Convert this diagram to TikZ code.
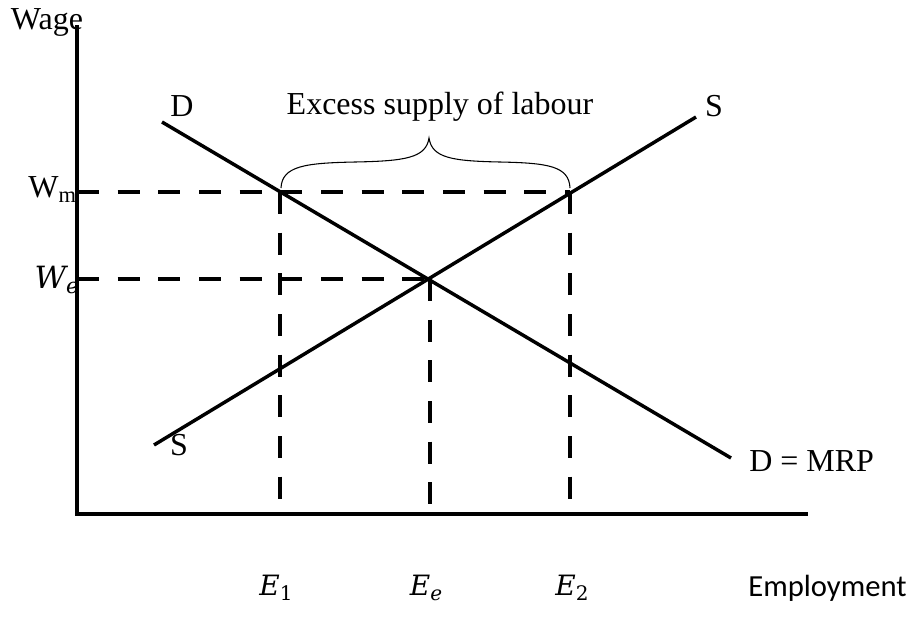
\documentclass[tikz,border=0pt]{standalone}
\usepackage{fontspec}
\setmainfont{Liberation Serif}
\newfontfamily\calfont{Carlito}
\newfontfamily\mathlike{DejaVu Serif}
\newcommand{\mvar}[2]{{\mathlike\itshape #1}\raisebox{-0.35ex}{\mathlike\fontsize{15}{17}\selectfont #2}}
\begin{document}
\begin{tikzpicture}[x=0.75pt,y=-0.75pt,
  axisline/.style={line width=3pt},
  curveline/.style={line width=2.6pt},
  guide/.style={line width=2.6pt, dash pattern=on 16.5pt off 14pt},
  lbl/.style={inner sep=0pt, font=\fontsize{24}{28}\selectfont},
  mlbl/.style={inner sep=0pt, font=\fontsize{21}{25}\selectfont},
  bracestyle/.style={line width=0.8pt}]
\useasboundingbox (0,0) rectangle (912,626);
% axes
\coordinate (O) at (77,514);
\coordinate (Ytop) at (77,25);
\coordinate (Xend) at (808,514);
\draw[axisline] (Ytop) -- (O) -- (Xend);
% curves
\coordinate (D1) at (162,122);
\coordinate (D2) at (731,458);
\coordinate (S1) at (154,445);
\coordinate (S2) at (696,117);
\draw[curveline] (D1) -- (D2);
\draw[curveline] (S1) -- (S2);
% key points
\coordinate (A) at (280,192);
\coordinate (B) at (430,279);
\coordinate (C) at (570,192);
\coordinate (Ywm) at (77,192);
\coordinate (Ywe) at (77,279);
\coordinate (X1) at (280,514);
\coordinate (Xe) at (430,514);
\coordinate (X2) at (570,514);
% dashed guides
\draw[guide] (Ywm) -- (C);
\draw[guide] (Ywe) -- (B);
\draw[guide] (A) -- (X1);
\draw[guide] (B) -- (Xe);
\draw[guide] (C) -- (X2);
% brace
\coordinate (BrL) at (281,188);
\coordinate (BrT) at (429,138);
\coordinate (BrR) at (570,188);
\draw[bracestyle] (BrL) .. controls (282,166) and (305,163) .. (355,162)
  .. controls (405,161) and (426,158) .. (BrT)
  .. controls (432,158) and (452,161) .. (500,162)
  .. controls (548,163) and (569,166) .. (BrR);
% labels
\node[lbl] (wage) at (47,22) {Wage};
\node[lbl, anchor=east] (wm) at (77,190) {W\textsubscript{m}};
\node[lbl, anchor=east, font=\mathlike\itshape\fontsize{23}{27}\selectfont] (we) at (79,280) {W\raisebox{-0.35ex}{\fontsize{16}{18}\selectfont e}};
\node[lbl] (dtop) at (182,106) {D};
\node[lbl] (stop) at (714,106) {S};
\node[lbl] (sbot) at (179,445) {S};
\node[lbl, anchor=west] (mrp) at (749,461) {D = MRP};
\node[lbl] (excess) at (440,107) {Excess supply of labour};
\node[mlbl] (e1) at (276,588) {\mvar{E}{1}};
\node[mlbl] (ee) at (426,588) {\mvar{E}{\itshape e}};
\node[mlbl] (e2) at (572,588) {\mvar{E}{2}};
\node[inner sep=0pt, font=\calfont\fontsize{23}{27}\selectfont, anchor=east] (emp) at (907,588) {Employment};
\end{tikzpicture}
\end{document}
